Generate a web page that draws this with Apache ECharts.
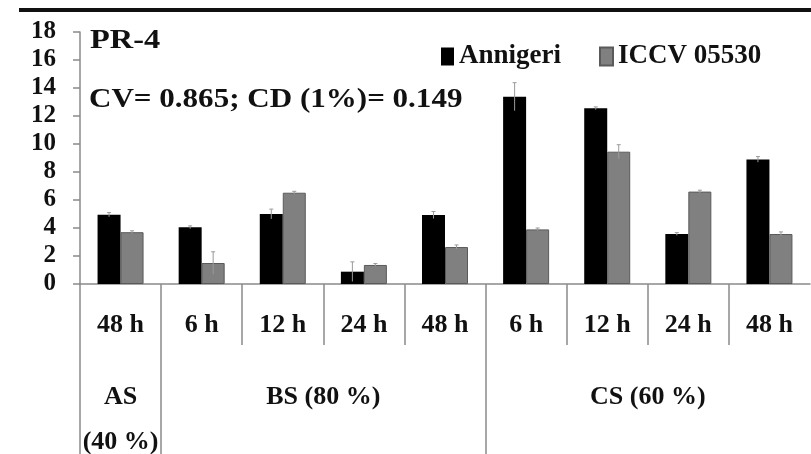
<!DOCTYPE html>
<html>
<head>
<meta charset="utf-8">
<script src="https://cdn.jsdelivr.net/npm/echarts@6/dist/echarts.min.js"></script>
<style>html,body{margin:0;padding:0;background:#fff}#c{width:811px;height:454px}</style>
</head>
<body>
<div id="c"></div>
<script>
var categories = ['48 h', '6 h', '12 h', '24 h', '48 h', '6 h', '12 h', '24 h', '48 h'];
var groupNames = ['AS\n(40 %)', 'BS (80 %)', 'CS (60 %)'];
var groupSpans = [1, 4, 4];
var seriesNames = ['Annigeri', 'ICCV 05530'];
var annigeri = [4.95, 4.05, 5.0, 0.88, 4.93, 13.38, 12.55, 3.57, 8.9];
var iccv = [3.7, 1.5, 6.52, 1.36, 2.64, 3.9, 9.45, 6.6, 3.57];
var annigeriErr = [0.15, 0.1, 0.35, 0.7, 0.25, 1.0, 0.1, 0.1, 0.2];
var iccvErr = [0.1, 0.8, 0.1, 0.1, 0.15, 0.1, 0.5, 0.1, 0.15];
var yTicks = [0, 2, 4, 6, 8, 10, 12, 14, 16, 18];
var title = 'PR-4';
var statsText = 'CV= 0.865; CD (1%)= 0.149';

var FONT = 'Liberation Serif';
var n = categories.length;
var groupStarts = [], groupCenters = [], acc = 0;
groupSpans.forEach(function (s) { groupStarts.push(acc); groupCenters.push(acc + s / 2); acc += s; });
var shortDividers = [];
for (var i = 1; i < n; i++) { if (groupStarts.indexOf(i) < 0) shortDividers.push(i); }

var chart = echarts.init(document.getElementById('c'));

function errSeries(name, vals, errs, offsetIdx) {
  return {
    type: 'custom',
    name: name + ' err',
    xAxisIndex: 0,
    z: 5,
    data: vals.map(function (v, i) { return [i, v, errs[i]]; }),
    renderItem: function (params, api) {
      var i = api.value(0), v = api.value(1), e = api.value(2);
      var bw = 23;
      var c = api.coord([i, v]);
      var x = c[0] + (offsetIdx === 0 ? -bw / 2 : bw / 2);
      var top = api.coord([i, v + e])[1];
      var bot = api.coord([i, v - e])[1];
      var st = { stroke: '#9a9a9a', lineWidth: 1 };
      return { type: 'group', children: [
        { type: 'line', shape: { x1: x, y1: top, x2: x, y2: bot }, style: st },
        { type: 'line', shape: { x1: x - 2, y1: top, x2: x + 2, y2: top }, style: st }
      ] };
    },
    tooltip: { show: false }
  };
}

chart.setOption({
  animation: false,
  backgroundColor: '#fff',
  grid: { left: 80, right: 1, top: 32, bottom: 170, containLabel: false, outerBoundsMode: 'none' },
  legend: {
    data: seriesNames,
    left: 441,
    top: 43,
    padding: 0,
    itemWidth: 13,
    itemHeight: 18,
    itemGap: 38,
    icon: 'rect',
    textStyle: { fontFamily: FONT, fontWeight: 'bold', fontSize: 27, color: '#111' }
  },
  graphic: [
    { type: 'rect', shape: { x: 19, y: 8, width: 792, height: 4 }, style: { fill: '#111' } },
    { type: 'text', x: 90, y: 28, scaleX: 1.2, style: { text: title, fontFamily: FONT, fontWeight: 'bold', fontSize: 27, fill: '#111', textVerticalAlign: 'top' } },
    { type: 'text', x: 89, y: 87, scaleX: 1.15, style: { text: statsText, fontFamily: FONT, fontWeight: 'bold', fontSize: 27, fill: '#111', textVerticalAlign: 'top' } }
  ],
  xAxis: [
    {
      type: 'category',
      data: categories,
      boundaryGap: true,
      axisLine: { show: true, lineStyle: { color: '#8a8a8a', width: 1.5 } },
      axisTick: { show: false },
      axisLabel: { interval: 0, margin: 28, fontFamily: FONT, fontWeight: 'bold', fontSize: 26, color: '#111' }
    },
    {
      type: 'value', min: 0, max: n, position: 'bottom',
      axisLine: { show: false },
      splitLine: { show: false },
      axisTick: { show: true, customValues: groupStarts, length: 170, lineStyle: { color: '#8a8a8a', width: 1.5 } },
      axisLabel: {
        show: true, customValues: groupCenters, margin: 91,
        formatter: function (v) { var k = groupCenters.indexOf(v); return k >= 0 ? groupNames[k] : ''; },
        fontFamily: FONT, fontWeight: 'bold', fontSize: 26, lineHeight: 45, color: '#111'
      }
    },
    {
      type: 'value', min: 0, max: n, position: 'bottom',
      axisLine: { show: false },
      splitLine: { show: false },
      axisTick: { show: true, customValues: shortDividers, length: 61, lineStyle: { color: '#8a8a8a', width: 1.5 } },
      axisLabel: { show: false }
    }
  ],
  yAxis: {
    type: 'value', min: yTicks[0], max: yTicks[yTicks.length - 1], interval: yTicks[1] - yTicks[0],
    axisLine: { show: true, lineStyle: { color: '#8a8a8a', width: 1.5 } },
    axisTick: { show: true, length: 7, lineStyle: { color: '#8a8a8a', width: 1.5 } },
    splitLine: { show: false },
    axisLabel: { margin: 24, fontFamily: FONT, fontWeight: 'bold', fontSize: 25, color: '#111' }
  },
  series: [
    { type: 'bar', name: seriesNames[0], data: annigeri, barWidth: 23, barGap: '0%', itemStyle: { color: '#000' } },
    { type: 'bar', name: seriesNames[1], data: iccv, barWidth: 23, barGap: '0%', itemStyle: { color: '#808080', borderColor: '#5a5a5a', borderWidth: 1 } },
    errSeries(seriesNames[0], annigeri, annigeriErr, 0),
    errSeries(seriesNames[1], iccv, iccvErr, 1)
  ]
});
</script>
</body>
</html>
